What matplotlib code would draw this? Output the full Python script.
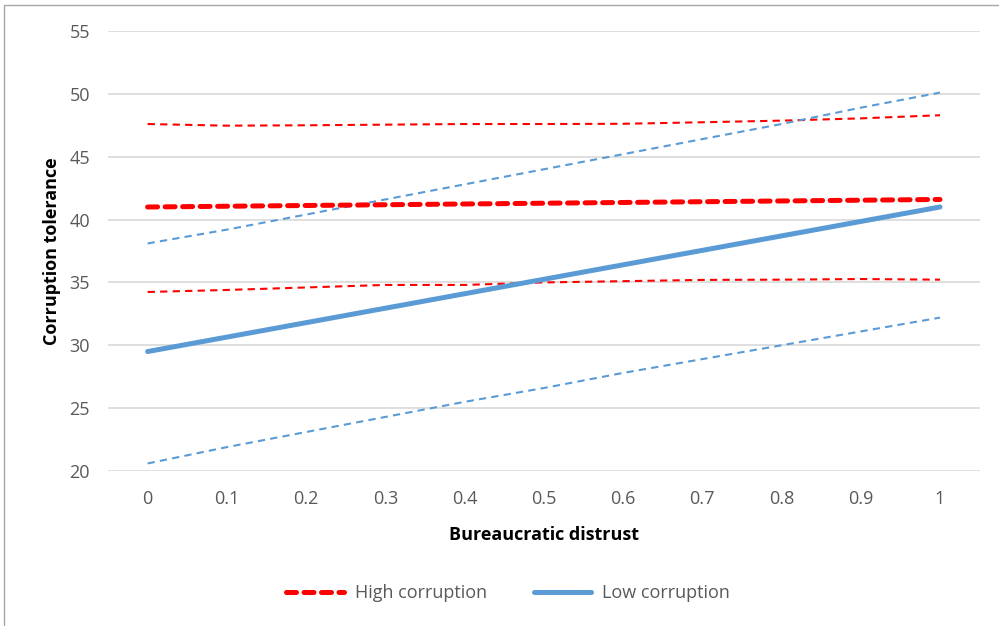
import matplotlib.pyplot as plt
from matplotlib.patches import Rectangle

plt.rcParams['font.family'] = ['Open Sans', 'DejaVu Sans']

x = [0, 0.1, 0.2, 0.3, 0.4, 0.5, 0.6, 0.7, 0.8, 0.9, 1]
x_labels = ['0', '0.1', '0.2', '0.3', '0.4', '0.5', '0.6', '0.7', '0.8', '0.9', '1']

high = [41.0, 41.06, 41.12, 41.18, 41.24, 41.3, 41.36, 41.42, 41.48, 41.54, 41.6]
high_upper = [47.6, 47.47, 47.5, 47.55, 47.6, 47.6, 47.62, 47.74, 47.87, 48.05, 48.3]
high_lower = [34.24, 34.4, 34.6, 34.8, 34.8, 35.0, 35.1, 35.2, 35.22, 35.27, 35.22]

low = [29.5, 30.65, 31.8, 32.95, 34.1, 35.25, 36.4, 37.55, 38.7, 39.85, 41.0]
low_upper = [38.1, 39.2, 40.4, 41.6, 42.8, 44.0, 45.2, 46.4, 47.6, 48.9, 50.1]
low_lower = [20.6, 21.9, 23.1, 24.3, 25.5, 26.6, 27.8, 28.9, 30.0, 31.1, 32.2]

red = '#FF0000'
blue = '#5B9BD5'
grey = '#595959'

fig = plt.figure(figsize=(9.99, 6.26), dpi=100)
fig.patches.append(Rectangle((4 / 999, -0.01), 1.0, 1 - 5 / 626 + 0.01, transform=fig.transFigure,
                             fill=False, edgecolor='#A6A6A6', linewidth=1))
ax = fig.add_axes([108 / 999, 1 - 471 / 626, (979.6 - 108) / 999, 440 / 626])

thin = dict(linewidth=1.5, dashes=(3.5, 2.5), dash_capstyle='butt')
ax.plot(x, high_upper, color=red, **thin)
ax.plot(x, high_lower, color=red, **thin)
ax.plot(x, low_upper, color=blue, **thin)
ax.plot(x, low_lower, color=blue, **thin)
ax.plot(x, high, color=red, linewidth=3.6, dashes=(2.0, 1.5), dash_capstyle='round', label='High corruption')
ax.plot(x, low, color=blue, linewidth=3.6, solid_capstyle='round', label='Low corruption')

ax.set_xlim(-0.05, 1.05)
ax.set_ylim(20, 55)
ax.set_xticks(x)
ax.set_xticklabels(x_labels)
ax.set_yticks(range(20, 56, 5))
ax.grid(axis='y', color='#D9D9D9', linewidth=1.2)
ax.set_axisbelow(True)
for s in ax.spines.values():
    s.set_visible(False)
ax.tick_params(length=0, labelsize=13, colors=grey, pad=14)
ax.tick_params(axis='y', pad=13)

ax.set_xlabel('Bureaucratic distrust', fontsize=13, fontweight='bold', labelpad=13)
ax.set_ylabel('Corruption tolerance', fontsize=13, fontweight='bold', labelpad=6)

leg = fig.legend(loc='center', bbox_to_anchor=(508 / 999, 1 - 593 / 626), ncol=2, frameon=False,
                 fontsize=13, handlelength=3.2, columnspacing=2.6, handletextpad=0.6)
for t in leg.get_texts():
    t.set_color(grey)

fig.savefig('out.png', dpi=100)
